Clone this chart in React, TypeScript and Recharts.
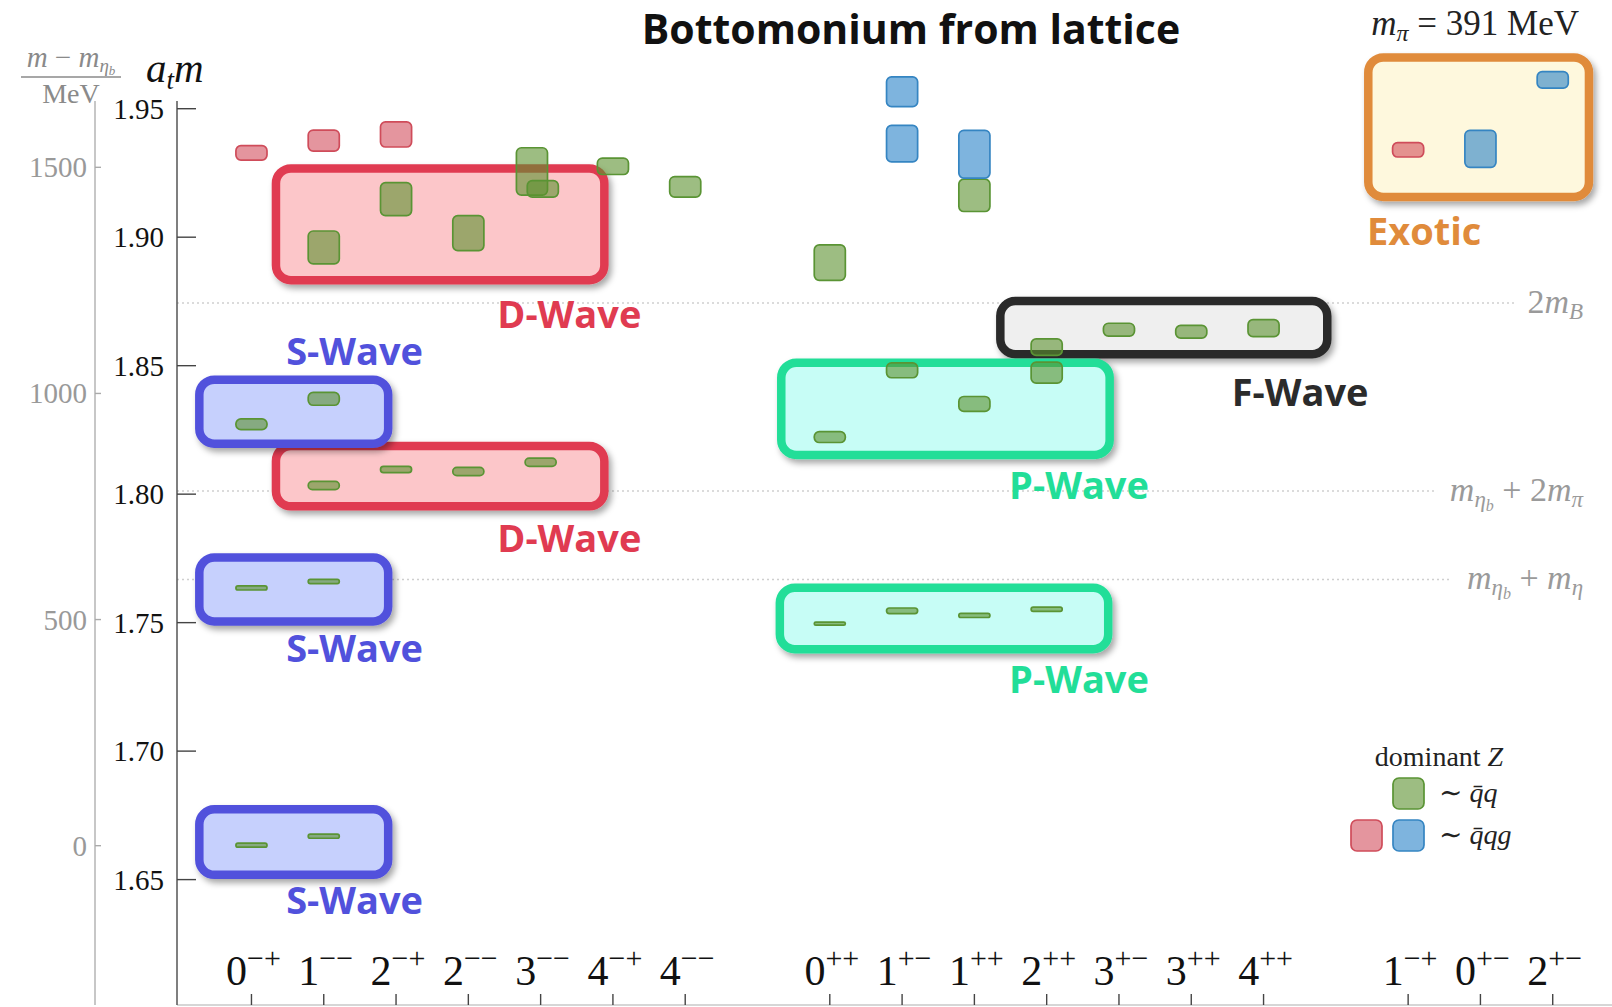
import { ComposedChart, XAxis, YAxis, ReferenceArea, ReferenceLine, Scatter } from "recharts";

const W = 1612;
const H = 1007;
const PLOT_TOP = 101;
const X_AXIS_H = 2;
const PLOT_BOTTOM = H - X_AXIS_H;
const PLOT_LEFT = 177;
const MEV_AXIS_X = 95;
const SERIF = "'Liberation Serif', 'DejaVu Serif', serif";
const SANS = "'Open Sans', 'Noto Sans', sans-serif";

// J^PC channels in plotting order; group index adds a gap between the three blocks
const channels = ["0-+", "1--", "2-+", "2--", "3--", "4-+", "4--", "0++", "1+-", "1++", "2++", "3+-", "3++", "4++", "1-+", "0+-", "2+-"];
const channelGroup = [0, 0, 0, 0, 0, 0, 0, 1, 1, 1, 1, 1, 1, 1, 2, 2, 2];
const channelPos = channels.map((_, i) => i + channelGroup[i]);
const posOf = (c: string) => channelPos[channels.indexOf(c)];
const xDomain = [-1.03, 18.82];

const atTicks = [1.65, 1.7, 1.75, 1.8, 1.85, 1.9, 1.95];
const mevTicks = [0, 500, 1000, 1500];
const etabMass = 1.6632; // a_t m of eta_b = zero of the MeV scale
const atInverseMeV = 5682;
const yDomain = [1.6012, 1.953];
const mevDomain = yDomain.map((v) => (v - etabMass) * atInverseMeV);

// extracted states: channel, mass (a_t m), half-height, dominant Z (g = qq, r/b = qqg)
const stateChannel = [
  "0-+", "0-+", "0-+", "0-+",
  "1--", "1--", "1--", "1--", "1--", "1--",
  "2-+", "2-+", "2-+",
  "2--", "2--",
  "3--", "3--", "3--",
  "4-+", "4--",
  "0++", "0++", "0++",
  "1+-", "1+-", "1+-", "1+-",
  "1++", "1++", "1++", "1++",
  "2++", "2++", "2++",
  "3+-", "3++", "4++",
  "1-+", "0+-", "2+-",
];
const stateMass = [
  1.6634, 1.7635, 1.8272, 1.9328,
  1.6669, 1.7660, 1.8371, 1.8034, 1.8960, 1.9376,
  1.8096, 1.9148, 1.9400,
  1.8088, 1.9016,
  1.8124, 1.9256, 1.9188,
  1.9276, 1.9196,
  1.7496, 1.8222, 1.8901,
  1.7546, 1.8482, 1.9364, 1.9566,
  1.7528, 1.8351, 1.9163, 1.9323,
  1.7552, 1.8473, 1.8572,
  1.8640, 1.8632, 1.8646,
  1.9340, 1.9344, 1.9612,
];
const stateErr = [
  0.0008, 0.0008, 0.0021, 0.0028,
  0.0008, 0.0008, 0.0025, 0.0016, 0.0064, 0.0041,
  0.0012, 0.0064, 0.0049,
  0.0016, 0.0068,
  0.0016, 0.0092, 0.0032,
  0.0032, 0.0040,
  0.0006, 0.0021, 0.0069,
  0.0011, 0.0029, 0.0071, 0.0058,
  0.0008, 0.0029, 0.0063, 0.0093,
  0.0008, 0.0041, 0.0032,
  0.0025, 0.0025, 0.0033,
  0.0028, 0.0072, 0.0032,
];
const stateKind = [
  "g", "g", "g", "r",
  "g", "g", "g", "g", "g", "r",
  "g", "g", "r",
  "g", "g",
  "g", "g", "g",
  "g", "g",
  "g", "g", "g",
  "g", "g", "b", "b",
  "g", "g", "g", "b",
  "g", "g", "g",
  "g", "g", "g",
  "r", "b", "b",
];
// nudge for the two overlapping 3-- levels
const stateShift = stateMass.map((_, i) => (i === 16 ? -0.12 : i === 17 ? 0.03 : 0));

// partial-wave groupings drawn behind the levels (draw order = array order)
const waveNames = ["D-Wave", "D-Wave", "S-Wave", "S-Wave", "S-Wave", "F-Wave", "P-Wave", "P-Wave", "Exotic"];
const waveX0 = [0.28, 0.28, -0.78, -0.78, -0.78, 10.3, 7.25, 7.27, 15.39];
const waveX1 = [4.94, 4.94, 1.95, 1.95, 1.95, 14.94, 11.91, 11.93, 18.56];
const waveY0 = [1.8816, 1.7936, 1.6502, 1.7488, 1.818, 1.8528, 1.738, 1.8136, 1.914];
const waveY1 = [1.9284, 1.8204, 1.679, 1.777, 1.8462, 1.8768, 1.7652, 1.8528, 1.9716];
const waveLabelX = [3.4, 3.4, 0.48, 0.48, 0.48, 13.56, 10.48, 10.48, 15.43];
const waveLabelY = [1.8696, 1.7824, 1.6416, 1.7396, 1.8552, 1.8392, 1.7276, 1.8032, 1.902];

// thresholds
const thresholdIds = ["2mB", "etab2pi", "etabeta"];
const thresholdMass = [1.8744, 1.8012, 1.7668];
const thresholdEnd = [17.5, 16.4, 16.57];
const thresholdLabelX = 18.42;

const kindStyle: Record<string, { fill: string; op: number; stroke: string }> = {
  g: { fill: "rgb(92,145,47)", op: 0.6, stroke: "#5a9434" },
  r: { fill: "rgb(205,62,78)", op: 0.55, stroke: "#cf4c5a" },
  b: { fill: "rgb(40,130,200)", op: 0.6, stroke: "#3585c2" },
};

const waveStyle: Record<string, { stroke: string; fill: string }> = {
  S: { stroke: "#5151dc", fill: "#c6d0fd" },
  D: { stroke: "#e03b51", fill: "#fcc6c9" },
  P: { stroke: "#22de98", fill: "#c7fdf6" },
  F: { stroke: "#2b2b2b", fill: "#efefef" },
  E: { stroke: "#e08b3b", fill: "#fef8dd" },
};

const labelPoints = [
  ...waveNames.map((n, i) => ({ x: waveLabelX[i], y: waveLabelY[i], kind: "wave", name: n })),
  ...thresholdIds.map((id, i) => ({ x: thresholdLabelX, y: thresholdMass[i], kind: "thr", name: id })),
];

const stateShape = (kind: string) => (p: any) => {
  const s = kindStyle[kind];
  const h = Math.max(p.height, 2.6);
  const y = p.y + (p.height - h) / 2;
  return (
    <rect x={p.x} y={y} width={p.width} height={h} rx={Math.min(5, h / 2)}
      fill={s.fill} fillOpacity={s.op} stroke={s.stroke} strokeWidth={1.7} />
  );
};

const waveShape = (name: string) => (p: any) => {
  const s = waveStyle[name[0]];
  const sw = 8.5;
  return (
    <rect x={p.x + sw / 2} y={p.y + sw / 2} width={p.width - sw} height={p.height - sw} rx={15}
      fill={s.fill} stroke={s.stroke} strokeWidth={sw} filter="url(#boxShadow)" />
  );
};

const ThresholdText = ({ id, x, y }: any) => {
  const common = { x, y, textAnchor: "end" as const, fontFamily: SERIF, fontSize: 34, fill: "#9a9a9a", dy: 10 };
  if (id === "2mB") {
    return (
      <text {...common}>
        2<tspan fontStyle="italic">m</tspan><tspan fontStyle="italic" fontSize={23} dy={6}>B</tspan>
      </text>
    );
  }
  return (
    <text {...common}>
      <tspan fontStyle="italic">m</tspan>
      <tspan fontStyle="italic" fontSize={23} dy={6}>η</tspan>
      <tspan fontStyle="italic" fontSize={16} dy={4}>b</tspan>
      <tspan dy={-10}>{id === "etab2pi" ? " + 2" : " + "}</tspan>
      <tspan fontStyle="italic">m</tspan>
      <tspan fontStyle="italic" fontSize={23} dy={6}>{id === "etab2pi" ? "π" : "η"}</tspan>
    </text>
  );
};

const LabelShape = (p: any) => {
  const d = p.payload;
  if (d.kind === "thr") return <ThresholdText id={d.name} x={p.cx} y={p.cy} />;
  const s = waveStyle[d.name[0]];
  return (
    <text x={p.cx} y={p.cy} dy={13} fontFamily={SANS} fontWeight={700} fontSize={38} fill={s.stroke}>
      {d.name}
    </text>
  );
};

const XTick = (p: any) => {
  const label = channels[channelPos.indexOf(p.payload.value)];
  if (!label) return null;
  const pc = label.slice(1).replace(/-/g, "\u2212");
  return (
    <g>
      <line x1={p.x} x2={p.x} y1={PLOT_BOTTOM} y2={PLOT_BOTTOM - 11} stroke="#444" strokeWidth={1.4} />
      <text x={p.x + 2} y={985} textAnchor="middle" fontFamily={SERIF} fontSize={42} fill="#111">
        {label[0]}<tspan fontSize={30} dy={-17}>{pc}</tspan>
      </text>
    </g>
  );
};

const AtTick = (p: any) => (
  <g>
    <line x1={PLOT_LEFT} x2={PLOT_LEFT + 19} y1={p.y} y2={p.y} stroke="#444" strokeWidth={1.4} />
    <text x={PLOT_LEFT - 13} y={p.y} dy={10} textAnchor="end" fontFamily={SERIF} fontSize={29} fill="#111">
      {Number(p.payload.value).toFixed(2)}
    </text>
  </g>
);

const MevTick = (p: any) => (
  <g>
    <line x1={MEV_AXIS_X} x2={MEV_AXIS_X + 6} y1={p.y} y2={p.y} stroke="#aaa" strokeWidth={1.4} />
    <text x={MEV_AXIS_X - 8} y={p.y} dy={10} textAnchor="end" fontFamily={SERIF} fontSize={29} fill="#999">
      {Math.round(p.payload.value)}
    </text>
  </g>
);

const Swatch = ({ x, y, kind }: any) => {
  const s = kindStyle[kind];
  return <rect x={x} y={y} width={31} height={31} rx={6} fill={s.fill} fillOpacity={s.op} stroke={s.stroke} strokeWidth={1.7} />;
};

export default function App() {
  return (
    <div style={{ position: "absolute", left: 0, top: 0, width: W, height: H, background: "#fff" }}>
      <svg width={0} height={0} style={{ position: "absolute" }}>
        <defs>
          <filter id="boxShadow" x="-10%" y="-20%" width="125%" height="150%">
            <feDropShadow dx={3} dy={4} stdDeviation={3} floodColor="#000" floodOpacity={0.35} />
          </filter>
        </defs>
      </svg>
      <ComposedChart width={W} height={H} margin={{ top: PLOT_TOP, right: 0, bottom: 0, left: 0 }}>
        <XAxis type="number" dataKey="x" domain={xDomain} ticks={channelPos} interval={0} allowDataOverflow
          height={X_AXIS_H} tickLine={false} axisLine={{ stroke: "#c9c9c9", strokeWidth: 1.5 }} tick={XTick} />
        <YAxis yAxisId="at" type="number" dataKey="y" domain={yDomain} ticks={atTicks} interval={0} allowDataOverflow
          width={PLOT_LEFT - MEV_AXIS_X} tickLine={false} axisLine={{ stroke: "#555", strokeWidth: 1.5 }} tick={AtTick} />
        <YAxis yAxisId="mev" type="number" domain={mevDomain} ticks={mevTicks} interval={0} allowDataOverflow
          width={MEV_AXIS_X} tickLine={false} axisLine={{ stroke: "#b5b5b5", strokeWidth: 1.5 }} tick={MevTick} />

        {thresholdMass.map((m, i) => (
          <ReferenceLine key={"t" + i} yAxisId="at" zIndex={50} ifOverflow="visible"
            segment={[{ x: xDomain[0], y: m }, { x: thresholdEnd[i], y: m }]}
            stroke="#cfcfcf" strokeWidth={1.5} strokeDasharray="2 3" />
        ))}

        {waveNames.map((n, i) => (
          <ReferenceArea key={"w" + i} yAxisId="at" zIndex={100} ifOverflow="visible"
            x1={waveX0[i]} x2={waveX1[i]} y1={waveY0[i]} y2={waveY1[i]} shape={waveShape(n)} />
        ))}

        {stateMass.map((m, i) => {
          const x = posOf(stateChannel[i]) + stateShift[i];
          return (
            <ReferenceArea key={"s" + i} yAxisId="at" zIndex={110} ifOverflow="visible"
              x1={x - 0.215} x2={x + 0.215} y1={m - stateErr[i]} y2={m + stateErr[i]} shape={stateShape(stateKind[i])} />
          );
        })}

        <Scatter yAxisId="at" data={labelPoints} dataKey="y" isAnimationActive={false} shape={LabelShape} />
      </ComposedChart>

      <svg width={W} height={H} style={{ position: "absolute", left: 0, top: 0, pointerEvents: "none" }}>
        <text x={911} y={44} textAnchor="middle" fontFamily={SANS} fontWeight={700} fontSize={41} fill="#111">
          Bottomonium from lattice
        </text>
        <text x={1579} y={35} textAnchor="end" fontFamily={SERIF} fontSize={35} fill="#222">
          <tspan fontStyle="italic">m</tspan><tspan fontStyle="italic" fontSize={24} dy={6}>π</tspan>
          <tspan dy={-6}> = 391 MeV</tspan>
        </text>

        <text x={71} y={67} textAnchor="middle" fontFamily={SERIF} fontSize={29} fill="#8a8a8a">
          <tspan fontStyle="italic">m</tspan> − <tspan fontStyle="italic">m</tspan>
          <tspan fontStyle="italic" fontSize={19} dy={5}>η</tspan><tspan fontStyle="italic" fontSize={13} dy={3}>b</tspan>
        </text>
        <line x1={21} x2={121} y1={77} y2={77} stroke="#8a8a8a" strokeWidth={1.4} />
        <text x={71} y={103} textAnchor="middle" fontFamily={SERIF} fontSize={28} fill="#8a8a8a">MeV</text>
        <text x={146} y={82} fontFamily={SERIF} fontSize={41} fill="#111">
          <tspan fontStyle="italic">a</tspan><tspan fontStyle="italic" fontSize={27} dy={7}>t</tspan>
          <tspan fontStyle="italic" dy={-7}>m</tspan>
        </text>

        <text x={1439} y={766} textAnchor="middle" fontFamily={SERIF} fontSize={28} fill="#222">
          dominant <tspan fontStyle="italic">Z</tspan>
        </text>
        <Swatch x={1393} y={778} kind="g" />
        <Swatch x={1351} y={820} kind="r" />
        <Swatch x={1393} y={820} kind="b" />
        <text x={1439} y={802} fontFamily={SERIF} fontSize={28} fill="#222">
          ∼ <tspan fontStyle="italic">q̄q</tspan>
        </text>
        <text x={1439} y={844} fontFamily={SERIF} fontSize={28} fill="#222">
          ∼ <tspan fontStyle="italic">q̄qg</tspan>
        </text>
      </svg>
    </div>
  );
}
